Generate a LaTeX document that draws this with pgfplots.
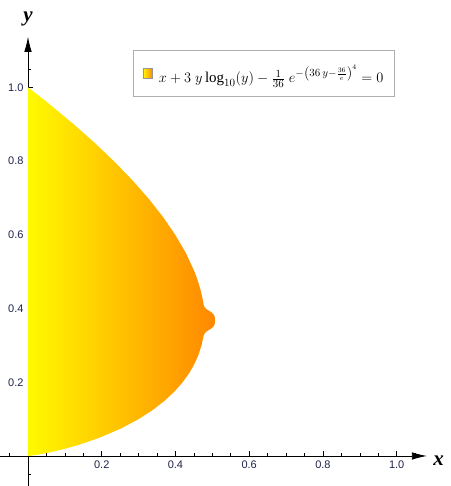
\documentclass[border=0pt]{standalone}
\usepackage{fontspec}
\setmainfont{Liberation Serif}
\setsansfont{Liberation Sans}
\usepackage{pgfplots}
\pgfplotsset{compat=1.18}
\usetikzlibrary{arrows.meta}
\definecolor{tickcol}{RGB}{30,35,75}
\definecolor{leftcol}{RGB}{255,250,0}
\definecolor{rightcol}{RGB}{255,136,0}
\definecolor{legcol}{RGB}{255,190,0}
\begin{document}
\begin{tikzpicture}
\begin{axis}[
  x=368.7pt, y=368.7pt,
  axis lines=middle,
  axis line style={line width=0.8pt, -{Latex[length=15pt,width=7.5pt]}},
  xmin=-0.075, xmax=1.082,
  ymin=-0.082, ymax=1.137,
  xtick={0.2,0.4,0.6,0.8,1.0},
  ytick={0.2,0.4,0.6,0.8,1.0},
  minor xtick={-0.05,0.05,0.1,0.15,0.25,0.3,0.35,0.45,0.5,0.55,0.65,0.7,0.75,0.85,0.9,0.95,1.05},
  minor ytick={-0.05,0.05,0.1,0.15,0.25,0.3,0.35,0.45,0.5,0.55,0.65,0.7,0.75,0.85,0.9,0.95,1.05},
  tick align=inside,
  major tick length=5pt,
  minor tick length=3pt,
  tick style={black, line width=0.6pt},
  xticklabel style={font=\sffamily\fontsize{11}{13}\selectfont, text=tickcol, yshift=-1pt},
  yticklabel style={font=\sffamily\fontsize{11}{13}\selectfont, text=tickcol, xshift=-1pt},
  /pgf/number format/assume math mode=true,
  /pgf/number format/fixed, /pgf/number format/fixed zerofill,
  /pgf/number format/precision=1,
  clip=false,
  legend style={at={(axis cs:0.640,1.037)}, anchor=center, draw={rgb,255:red,175;green,175;blue,175},
    line width=0.8pt, inner xsep=9pt, inner ysep=10pt, font=\fontsize{15}{18}\selectfont},
  legend cell align=left,
]
\addplot[draw=none, left color=leftcol, right color=rightcol,
  legend image code/.code={\draw[fill=legcol, draw={rgb,255:red,150;green,150;blue,150}, line width=0.6pt] (0pt,-4.5pt) rectangle (9.5pt,5pt); \path (14pt,0pt);}]
coordinates {
(0,0) (0.0090,0.001) (0.0162,0.002) (0.0345,0.005) (0.0600,0.01) (0.1019,0.02) (0.1371,0.03)
(0.1952,0.05) (0.2531,0.075) (0.3000,0.1) (0.3387,0.125) (0.3707,0.15) (0.3974,0.175)
(0.4194,0.2) (0.4373,0.225) (0.4515,0.25) (0.4626,0.275) (0.4706,0.3) (0.4764,0.3262)
(0.4796,0.3332) (0.4832,0.3366) (0.4881,0.3401) (0.4937,0.3436) (0.4988,0.3470)
(0.5051,0.3540) (0.5069,0.3610) (0.5071,0.3679) (0.5069,0.3748) (0.5051,0.3818)
(0.4988,0.3887) (0.4937,0.3922) (0.4881,0.3957) (0.4832,0.3991) (0.4796,0.4026)
(0.4764,0.4095) (0.4738,0.425) (0.4681,0.45) (0.4607,0.475) (0.4515,0.5) (0.4284,0.55)
(0.3993,0.6) (0.3648,0.65) (0.3253,0.7) (0.2811,0.75) (0.2326,0.8) (0.1800,0.85)
(0.1235,0.9) (0.0635,0.95) (0.0322,0.975) (0,1.0) (0,0)
};
\addlegendentry{\rule[-15pt]{0pt}{35pt}$x+3\;y\log_{10}(y)-\frac{1}{36}\;e^{-\left(36\,y-\frac{36}{e}\right)^{4}}=0$}
\node[font=\fontsize{21}{24}\selectfont\bfseries\itshape] at (axis cs:1.114,-0.012) {x};
\node[font=\fontsize{21}{24}\selectfont\bfseries\itshape] at (axis cs:0,1.185) {y};
\coordinate (BL) at (axis cs:-0.0759,-0.0814);
\coordinate (TR) at (axis cs:1.1446,1.2367);
\end{axis}
\pgfresetboundingbox
\path (BL) rectangle (TR);
\end{tikzpicture}
\end{document}
